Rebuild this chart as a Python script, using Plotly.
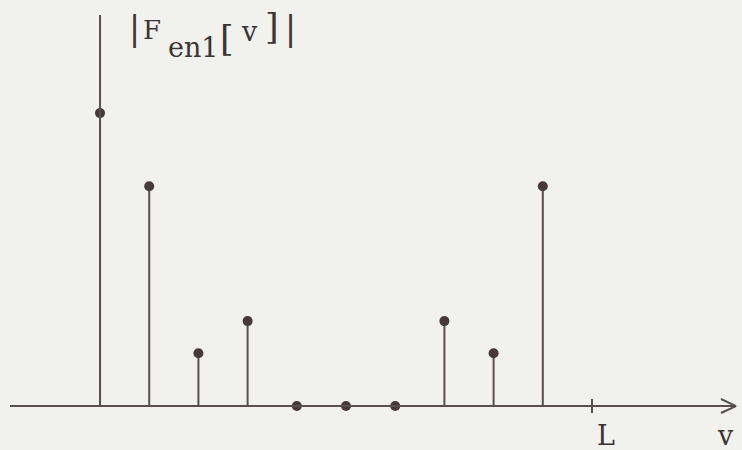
import plotly.graph_objects as go

# Data
n_index = [0, 1, 2, 3, 4, 5, 6, 7, 8, 9]
magnitude = [1.0, 0.75, 0.18, 0.29, 0.0, 0.0, 0.0, 0.29, 0.18, 0.75]
L_value = 10
x_label = "v"
L_label = "L"
# title pieces: |F_en1[v]|  (text, centre px x, centre px y, size)
title_pieces = [
    ("|", 134, 28, 33),
    ("F", 152, 30, 26),
    ("en1", 193, 47, 27),
    ("[", 227, 39, 35),
    ("v", 249, 31, 27),
    ("]", 272, 27, 35),
    ("|", 290, 28, 33),
]

BG = "#f1f1ed"
LINE = "#57504e"
DOT = "#47393a"
TXT = "#3a3433"
FONT = "DejaVu Serif"

X0, X1 = -2.033, 13.049
Y0, Y1 = -0.150, 1.386

def px_to_x(px):
    return X0 + px / 742 * (X1 - X0)

def py_to_y(py):
    return Y1 - py / 450 * (Y1 - Y0)

fig = go.Figure()

# stems
sx, sy = [], []
for xi, yi in zip(n_index, magnitude):
    sx += [xi, xi, None]
    sy += [0, yi, None]
fig.add_trace(go.Scatter(x=sx, y=sy, mode="lines",
                         line=dict(color=LINE, width=2), hoverinfo="skip"))
# dots
fig.add_trace(go.Scatter(x=n_index, y=magnitude, mode="markers",
                         marker=dict(color=DOT, size=10), hoverinfo="skip"))

# axes drawn manually
fig.add_shape(type="line", x0=0, x1=0, y0=0, y1=py_to_y(15),
              line=dict(color=LINE, width=2))
fig.add_shape(type="line", x0=px_to_x(10), x1=px_to_x(735), y0=0, y1=0,
              line=dict(color=LINE, width=2))
# arrow head
fig.add_trace(go.Scatter(x=[px_to_x(721), px_to_x(736), px_to_x(721)],
                         y=[py_to_y(399), 0, py_to_y(413)], mode="lines",
                         line=dict(color=LINE, width=2), hoverinfo="skip"))
# L tick
fig.add_shape(type="line", x0=L_value, x1=L_value, y0=py_to_y(399), y1=py_to_y(413),
              line=dict(color=LINE, width=2))

fig.add_annotation(x=px_to_x(606), y=py_to_y(435), text=L_label, showarrow=False,
                   font=dict(family=FONT, size=27, color=TXT))
fig.add_annotation(x=px_to_x(725), y=py_to_y(435), text=x_label, showarrow=False,
                   font=dict(family=FONT, size=27, color=TXT))
for txt, cx, cy, sz in title_pieces:
    fig.add_annotation(x=px_to_x(cx), y=py_to_y(cy), text=txt, showarrow=False,
                       font=dict(family=FONT, size=sz, color=TXT))

fig.update_layout(
    width=742, height=450,
    margin=dict(l=0, r=0, t=0, b=0),
    paper_bgcolor=BG, plot_bgcolor=BG,
    showlegend=False,
    xaxis=dict(range=[X0, X1], visible=False, fixedrange=True),
    yaxis=dict(range=[Y0, Y1], visible=False, fixedrange=True),
)

fig.write_html("out.html")
